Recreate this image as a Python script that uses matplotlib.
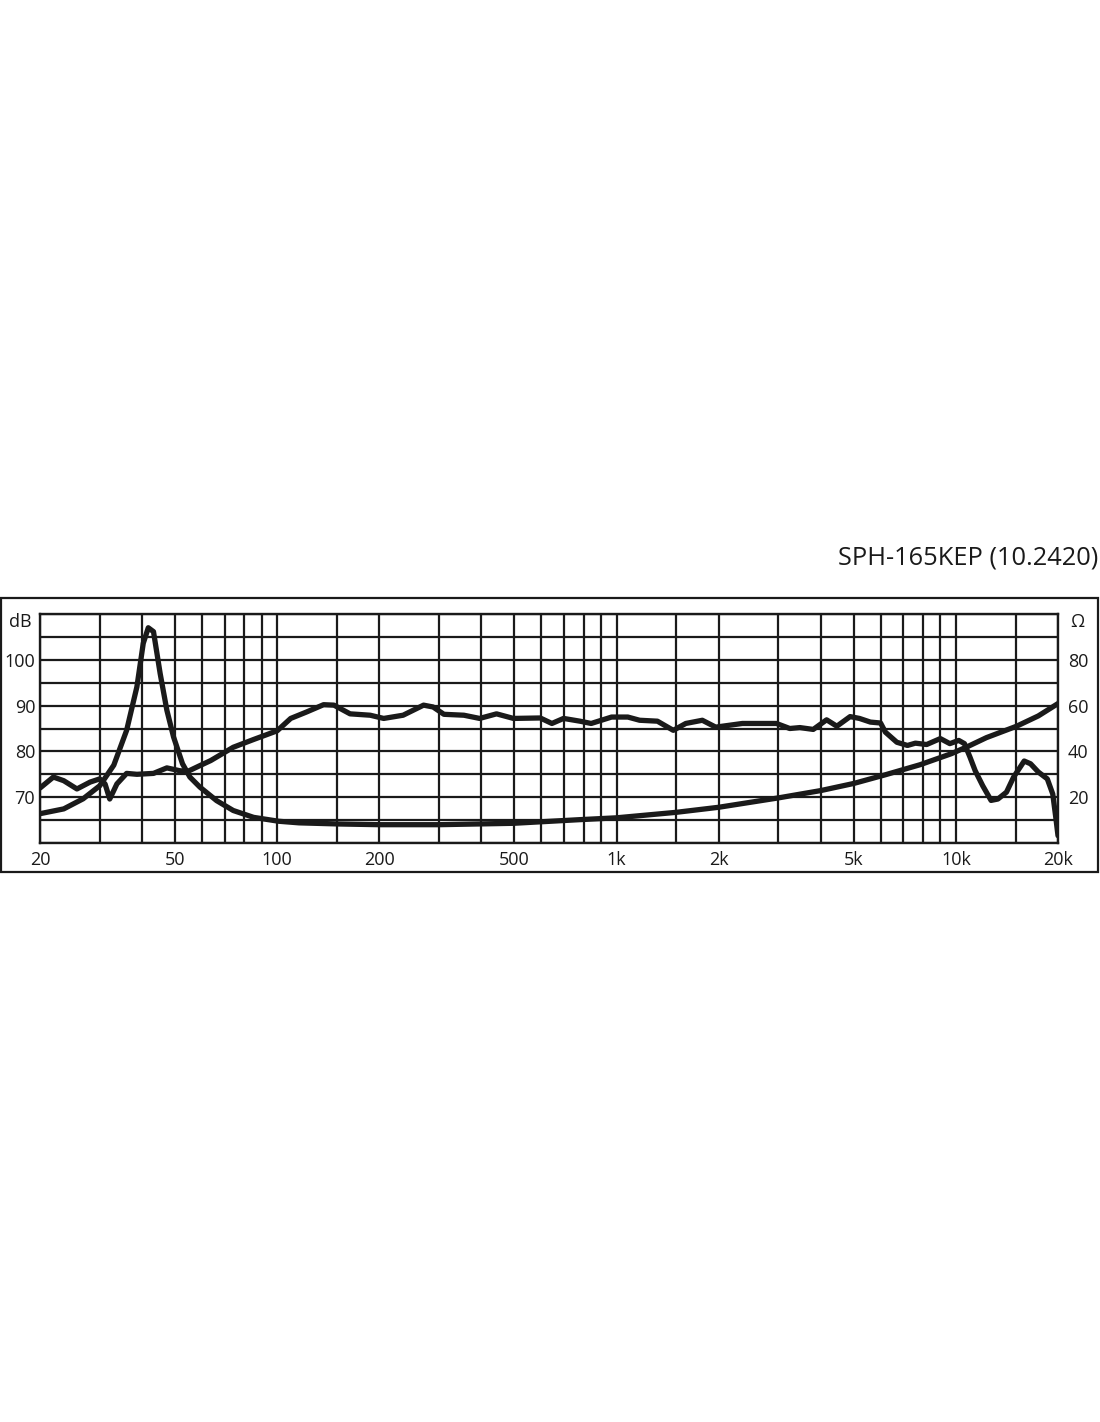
import matplotlib.pyplot as plt
from matplotlib.patches import Rectangle

plt.rcParams['font.family'] = ['Open Sans', 'DejaVu Sans']

# Frequency response (dB)
spl_freq = [20, 21.9, 23.5, 25.7, 28.1, 30, 31.1, 32.1, 33.7, 36, 38.6, 43.2, 47.3,
            51.5, 54.4, 59.2, 63.7, 74.2, 85.2, 100, 109.6, 122, 137, 147, 164, 188,
            206, 235, 270, 288, 310, 355, 395, 443, 497, 596, 645, 698, 780, 842,
            967, 1080, 1170, 1320, 1470, 1600, 1790, 1960, 2350, 2960, 3240, 3470,
            3800, 4160, 4460, 4880, 5200, 5600, 6000, 6200, 6700, 7200, 7600, 8200,
            9000, 9600, 10200, 10600, 11000, 11400, 12000, 12700, 13300, 14100,
            14800, 15900, 16600, 17500, 18600, 19300, 19700, 20000]
spl_db = [72.0, 74.4, 73.6, 71.8, 73.3, 74.0, 72.9, 69.6, 72.9, 75.2, 75.0, 75.2, 76.4,
          75.8, 75.6, 76.9, 78.0, 80.9, 82.6, 84.5, 87.2, 88.6, 90.2, 90.1, 88.2, 87.9,
          87.2, 87.9, 90.1, 89.7, 88.1, 87.9, 87.2, 88.2, 87.2, 87.3, 86.1, 87.2, 86.6, 86.1,
          87.5, 87.5, 86.8, 86.6, 84.6, 86.1, 86.8, 85.3, 86.1, 86.1, 85.0, 85.2,
          84.8, 86.9, 85.5, 87.6, 87.2, 86.4, 86.2, 84.2, 82.0, 81.3, 81.8, 81.5,
          82.8, 81.7, 82.4, 81.7, 78.8, 75.8, 72.5, 69.3, 69.6, 71.1,
          74.4, 77.9, 77.3, 75.5, 74.0, 70.7, 65.6, 61.6]

# Impedance (ohm)
imp_freq = [20, 23.5, 26.8, 30, 33, 36, 38.6, 40.3, 41.7, 43.2, 45.2, 47.3, 49.5, 52.6,
            55.3, 59.2, 66.3, 74.2, 85.2, 101, 116, 153, 200, 300, 496, 780, 1000,
            1500, 2000, 3000, 4000, 5000, 6200, 7850, 9700, 10900, 12300, 15100,
            17500, 20000]
imp_ohm = [12.8, 14.9, 19.3, 25.0, 34.0, 49.2, 68.2, 87.2, 94.0, 92.3, 74.0, 58.0, 46.3, 34.6,
           28.8, 24.4, 18.5, 14.2, 11.2, 9.5, 8.8, 8.3, 8.0, 8.0, 8.6, 10.2, 11.0,
           13.4, 15.6, 19.7, 22.9, 26.0, 29.8, 34.2, 39.0, 42.3, 46.0, 51.0,
           55.5, 60.9]

grid_freqs = [20, 30, 40, 50, 60, 70, 80, 90, 100, 150, 200, 300, 400, 500, 600, 700,
              800, 900, 1000, 1500, 2000, 3000, 4000, 5000, 6000, 7000, 8000, 9000,
              10000, 15000, 20000]
x_labels = {20: '20', 50: '50', 100: '100', 200: '200', 500: '500', 1000: '1k',
            2000: '2k', 5000: '5k', 10000: '10k', 20000: '20k'}
db_ticks = [60, 65, 70, 75, 80, 85, 90, 95, 100, 105, 110]
db_labels = {70: '70', 80: '80', 90: '90', 100: '100'}
ohm_ticks = [20, 40, 60, 80]

fig = plt.figure(figsize=(11, 14.22), dpi=100)
fig.patches.append(Rectangle((0.001, 0.3868), 0.997, 0.1927, transform=fig.transFigure,
                             fill=False, edgecolor='#1a1a1a', linewidth=1.6))
fig.text(0.998, 0.6075, 'SPH-165KEP (10.2420)', ha='right', va='center', fontsize=18.3,
         color='#1a1a1a')

ax = fig.add_axes([40 / 1100, 0.40717, 1018 / 1100, 0.16104])
ax.set_xscale('log')
ax.set_xlim(20, 20000)
ax.set_ylim(60, 110)
ax.set_xticks(grid_freqs)
ax.set_xticklabels([x_labels.get(f, '') for f in grid_freqs])
ax.minorticks_off()
ax.set_yticks(db_ticks)
ax.set_yticklabels([db_labels.get(v, '') for v in db_ticks])
ax.grid(True, color='#1a1a1a', linewidth=1.6)
ax.tick_params(length=0, labelsize=13, colors='#1a1a1a')
ax.tick_params(axis='x', pad=6)
ax.tick_params(axis='y', pad=3.5)
for s in ax.spines.values():
    s.set_linewidth(1.7)
    s.set_color('#1a1a1a')

ax.plot(spl_freq, spl_db, color='#1a1a1a', linewidth=3.8, solid_joinstyle='round',
        solid_capstyle='round', zorder=3)

ax2 = ax.twinx()
ax2.set_ylim(0, 100)
ax2.set_yticks(ohm_ticks)
ax2.tick_params(length=0, labelsize=13, colors='#1a1a1a', pad=7)
for s in ax2.spines.values():
    s.set_visible(False)
ax2.plot(imp_freq, imp_ohm, color='#1a1a1a', linewidth=3.8, solid_joinstyle='round',
         solid_capstyle='round', zorder=3)

ax.text(-0.0196, 0.965, 'dB', transform=ax.transAxes, ha='center', va='center',
        fontsize=13, color='#1a1a1a')
ax.text(1.0187, 0.965, 'Ω', transform=ax.transAxes, ha='center', va='center',
        fontsize=13, color='#1a1a1a')

fig.savefig('out.png', dpi=100, facecolor='white')
